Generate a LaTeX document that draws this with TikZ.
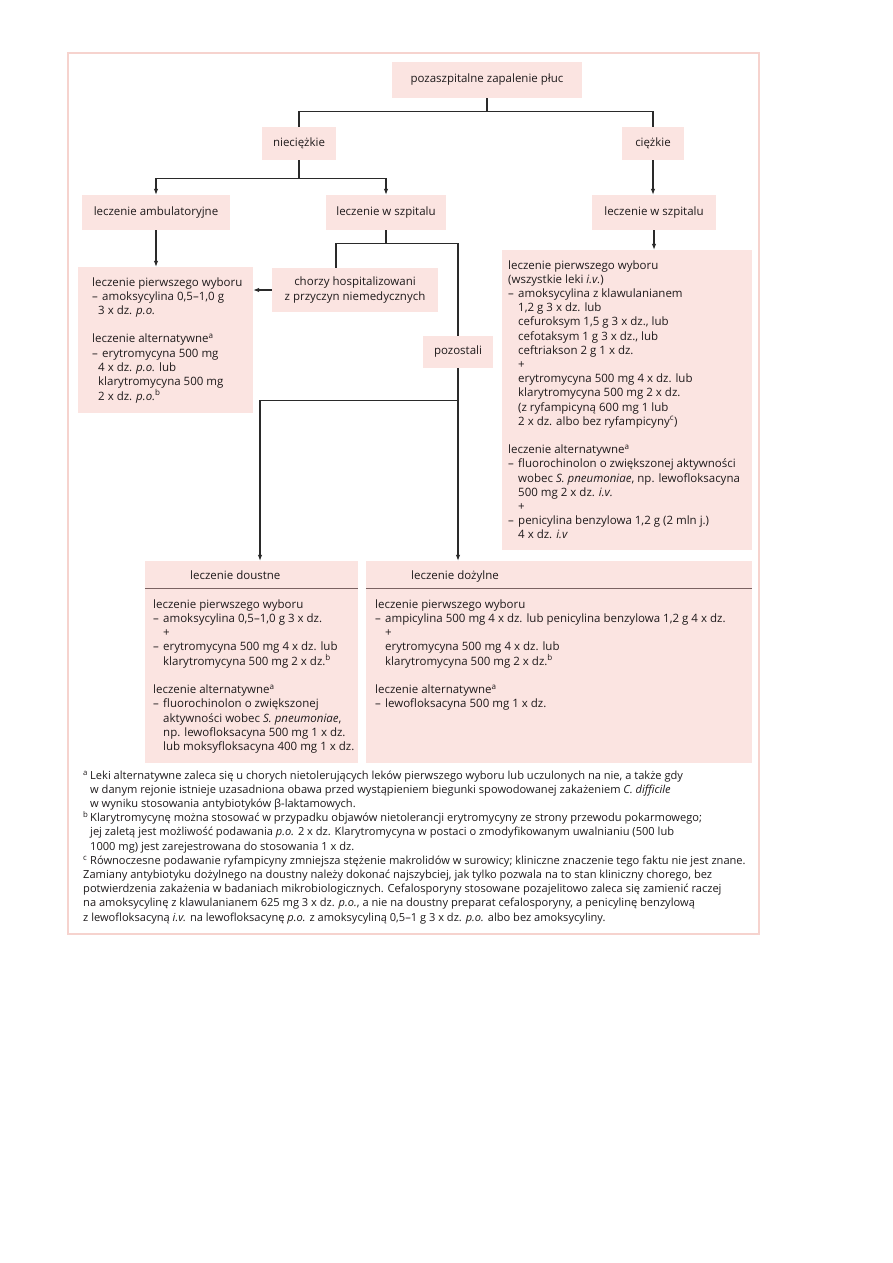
\documentclass[tikz,border=0pt]{standalone}
\usepackage{fontspec}
\setmainfont{Open Sans}
\usetikzlibrary{arrows.meta}
\definecolor{boxpink}{HTML}{FBE4E1}
\definecolor{framepink}{HTML}{F6D3CE}
\definecolor{linec}{HTML}{2A2A2A}
\definecolor{divc}{HTML}{7A6262}
\definecolor{txt}{HTML}{1E1A1B}
\newcommand\fs{\fontsize{11.5}{14.2}\selectfont}
\newcommand\ffs{\fontsize{11.1}{14.2}\selectfont}
\newcommand\dsh{\makebox[10pt][l]{–}}
\newcommand\ind{\hspace*{10pt}}
\newcommand\sups[1]{\textsuperscript{#1}}
\newenvironment{lines}{\begin{tabular}[t]{@{}l@{}}}{\end{tabular}}
\begin{document}
\begin{tikzpicture}[x=1pt,y=-1pt, font=\fs, text=txt,
  sbox/.style={fill=boxpink, inner sep=0pt, align=center},
  bbox/.style={fill=boxpink, inner sep=0pt},
  conn/.style={draw=linec, line width=1.1pt},
  arr/.style={conn, -{Latex[length=6pt,width=4.5pt]}},
  txtn/.style={anchor=base west, inner sep=0pt},
  divl/.style={draw=divc, line width=1.2pt}]
\useasboundingbox (0,0) rectangle (893,1263);
\fill[white] (0,0) rectangle (893,1263);
\draw[framepink, line width=2.5pt] (68,53) rectangle (759,934);

% small boxes
\node[sbox, minimum width=190pt, minimum height=36pt] (top) at (487,80) {pozaszpitalne zapalenie płuc};
\node[sbox, minimum width=74pt, minimum height=33pt] (niec) at (299,143.5) {nieciężkie};
\node[sbox, minimum width=62pt, minimum height=33pt] (ciez) at (653,143.5) {ciężkie};
\node[sbox, minimum width=148pt, minimum height=35pt] (amb) at (156,212.5) {leczenie ambulatoryjne};
\node[sbox, minimum width=120pt, minimum height=35pt] (szp1) at (386,212.5) {leczenie w szpitalu};
\node[sbox, minimum width=124pt, minimum height=35pt] (szp2) at (654,212.5) {leczenie w szpitalu};
\node[sbox, minimum width=166pt, minimum height=44pt] (chor) at (355,290) {chorzy hospitalizowani\\z przyczyn niemedycznych};
\node[sbox, minimum width=70pt, minimum height=32pt] (poz) at (458,352) {pozostali};

% big boxes
\node[bbox, minimum width=175pt, minimum height=146pt] (lbox) at (165.5,340) {};
\node[bbox, minimum width=250pt, minimum height=300pt] (rbox) at (627,400) {};
\node[bbox, minimum width=213pt, minimum height=202pt] (dou) at (251.5,662) {};
\node[bbox, minimum width=386pt, minimum height=202pt] (doz) at (559,662) {};
\draw[divl] ([yshift=-28pt]dou.north west) -- ([yshift=-28pt]dou.north east);
\draw[divl] ([yshift=-28pt]doz.north west) -- ([yshift=-28pt]doz.north east);

% connectors
\draw[conn] (top.south) -- ++(0,13) coordinate (h1);
\draw[conn] (niec.north) |- (h1) -| (ciez.north);
\draw[conn] (niec.south) -- ++(0,18) coordinate (h2);
\draw[arr] (h2) -| (amb.north);
\draw[arr] (h2) -| (szp1.north);
\draw[arr] (ciez.south) -- (ciez.south |- szp2.north);
\draw[arr] (amb.south) -- (amb.south |- lbox.north);
\draw[conn] (szp1.south) -- ++(0,13) coordinate (h3);
\draw[conn] ([xshift=-19pt]chor.north) |- (h3) -| (poz.north);
\draw[arr] (chor.west) -- (chor.west -| lbox.east);
\draw[conn] (poz.south) -- ++(0,32) coordinate (h4);
\draw[arr] (h4) -- (h4 |- doz.north);
\draw[arr] (h4) -| ([xshift=8.5pt]dou.north);
\draw[arr] (szp2.south) -- (szp2.south |- rbox.north);

% texts
\node[txtn] (ltxt) at (92,286) {\begin{lines}
leczenie pierwszego wyboru\\
\dsh amoksycylina 0,5–1,0 g\\
\hspace*{6pt}3 x dz. \textit{p.o.}\\
\\
leczenie alternatywne\sups{a}\\
\dsh erytromycyna 500 mg\\
\hspace*{6pt}4 x dz. \textit{p.o.} lub\\
\hspace*{6pt}klarytromycyna 500 mg\\
\hspace*{6pt}2 x dz. \textit{p.o.}\sups{b}
\end{lines}};

\node[txtn] (rtxt) at (508,269) {\begin{lines}
leczenie pierwszego wyboru\\
(wszystkie leki \textit{i.v.})\\
\dsh amoksycylina z klawulanianem\\
\ind 1,2 g 3 x dz. lub\\
\ind cefuroksym 1,5 g 3 x dz., lub\\
\ind cefotaksym 1 g 3 x dz., lub\\
\ind ceftriakson 2 g 1 x dz.\\
\ind +\\
\ind erytromycyna 500 mg 4 x dz. lub\\
\ind klarytromycyna 500 mg 2 x dz.\\
\ind (z ryfampicyną 600 mg 1 lub\\
\ind 2 x dz. albo bez ryfampicyny\sups{c})\\
\\
leczenie alternatywne\sups{a}\\
\dsh fluorochinolon o zwiększonej aktywności\\
\ind wobec \textit{S. pneumoniae}, np. lewofloksacyna\\
\ind 500 mg 2 x dz. \textit{i.v.}\\
\ind +\\
\dsh penicylina benzylowa 1,2 g (2 mln j.)\\
\ind 4 x dz. \textit{i.v}
\end{lines}};

\node[txtn] (douh) at (190,579) {leczenie doustne};
\node[txtn] (dozh) at (411,579) {leczenie dożylne};

\node[txtn] (doutxt) at (153,608) {\begin{lines}
leczenie pierwszego wyboru\\
\dsh amoksycylina 0,5–1,0 g 3 x dz.\\
\ind +\\
\dsh erytromycyna 500 mg 4 x dz. lub\\
\ind klarytromycyna 500 mg 2 x dz.\sups{b}\\
\\
leczenie alternatywne\sups{a}\\
\dsh fluorochinolon o zwiększonej\\
\ind aktywności wobec \textit{S. pneumoniae},\\
\ind np. lewofloksacyna 500 mg 1 x dz.\\
\ind lub moksyfloksacyna 400 mg 1 x dz.
\end{lines}};

\node[txtn] (doztxt) at (375,608) {\begin{lines}
leczenie pierwszego wyboru\\
\dsh ampicylina 500 mg 4 x dz. lub penicylina benzylowa 1,2 g 4 x dz.\\
\ind +\\
\ind erytromycyna 500 mg 4 x dz. lub\\
\ind klarytromycyna 500 mg 2 x dz.\sups{b}\\
\\
leczenie alternatywne\sups{a}\\
\dsh lewofloksacyna 500 mg 1 x dz.
\end{lines}};

\node[txtn, font=\ffs] (foot) at (83,779) {\begin{lines}
\makebox[7pt][l]{\sups{a}}Leki alternatywne zaleca się u chorych nietolerujących leków pierwszego wyboru lub uczulonych na nie, a także gdy\\
\hspace*{7pt}w danym rejonie istnieje uzasadniona obawa przed wystąpieniem biegunki spowodowanej zakażeniem \textit{C. difficile}\\
\hspace*{7pt}w wyniku stosowania antybiotyków β-laktamowych.\\
\makebox[7pt][l]{\sups{b}}Klarytromycynę można stosować w przypadku objawów nietolerancji erytromycyny ze strony przewodu pokarmowego;\\
\hspace*{7pt}jej zaletą jest możliwość podawania \textit{p.o.} 2 x dz. Klarytromycyna w postaci o zmodyfikowanym uwalnianiu (500 lub\\
\hspace*{7pt}1000 mg) jest zarejestrowana do stosowania 1 x dz.\\
\makebox[7pt][l]{\sups{c}}Równoczesne podawanie ryfampicyny zmniejsza stężenie makrolidów w surowicy; kliniczne znaczenie tego faktu nie jest znane.\\
Zamiany antybiotyku dożylnego na doustny należy dokonać najszybciej, jak tylko pozwala na to stan kliniczny chorego, bez\\
potwierdzenia zakażenia w badaniach mikrobiologicznych. Cefalosporyny stosowane pozajelitowo zaleca się zamienić raczej\\
na amoksycylinę z klawulanianem 625 mg 3 x dz. \textit{p.o.}, a nie na doustny preparat cefalosporyny, a penicylinę benzylową\\
z lewofloksacyną \textit{i.v.} na lewofloksacynę \textit{p.o.} z amoksycyliną 0,5–1 g 3 x dz. \textit{p.o.} albo bez amoksycyliny.
\end{lines}};
\end{tikzpicture}
\end{document}
